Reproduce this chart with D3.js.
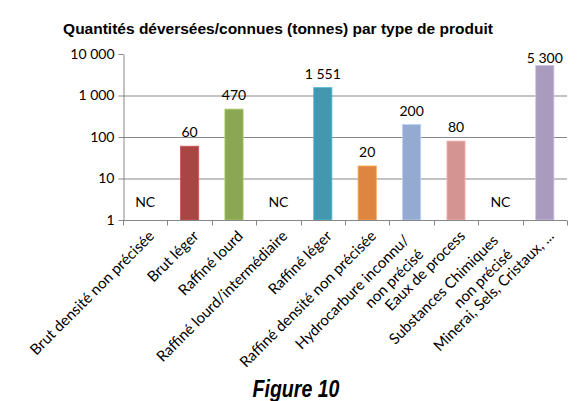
<!DOCTYPE html>
<html><head><meta charset="utf-8">
<script src="https://cdn.jsdelivr.net/npm/d3@7"></script>
<style>html,body{margin:0;padding:0;background:#fff;}svg{display:block;}</style>
</head><body>
<script>
const categories = ["Brut densité non précisée","Brut léger","Raffiné lourd","Raffiné lourd/intermédiaire","Raffiné léger","Raffiné densité non précisée","Hydrocarbure inconnu/\nnon précisé","Eaux de process","Substances Chimiques\nnon précisé","Minerai, Sels, Cristaux, ..."];
const values = [null,60,470,null,1551,20,200,80,null,5300];
const colors = ["#4572A7","#A94543","#8BA753","#80699B","#4398AF","#DD8541","#94AAD0","#D39492","#A47D7C","#A99BBE"];
const yTicks = [1,10,100,1000,10000];
const gridValues = [10,100,1000];
const title = "Quantités déversées/connues (tonnes) par type de produit";
const caption = "Figure 10";

const W=588,H=401;
const svg=d3.select("body").append("svg").attr("width",W).attr("height",H);
svg.append("rect").attr("width",W).attr("height",H).attr("fill","#fff");
const fr=d3.formatLocale({decimal:",",thousands:"\u00a0",grouping:[3],currency:["","€"]});
const fmt=fr.format(",d");
const L=123,R=567,T=54,B=220;
const x=d3.scaleBand().domain(categories).range([L,R]).padding(0);
const y=d3.scaleLog().domain([1,10000]).range([B,T]);
const axisColor="#878787";
const font="Lato, 'Open Sans', sans-serif";

// gridlines
svg.append("g").selectAll("line").data(gridValues).join("line")
 .attr("x1",L).attr("x2",R).attr("y1",d=>y(d)+0.5).attr("y2",d=>y(d)+0.5)
 .attr("stroke",axisColor).attr("stroke-width",1);

// bars
const bw=x.bandwidth()*0.41;
const data=categories.map((c,i)=>({c,v:values[i],col:colors[i]}));
svg.append("g").selectAll("rect").data(data.filter(d=>d.v!=null)).join("rect")
 .attr("x",d=>x(d.c)+x.bandwidth()/2-bw/2).attr("width",bw)
 .attr("y",d=>y(d.v)).attr("height",d=>B-y(d.v))
 .attr("fill",d=>d.col).attr("stroke",d=>d3.color(d.col).brighter(0.6)).attr("stroke-width",0.8);

// y axis
const ya=d3.axisLeft(y).tickValues(yTicks).tickFormat(d=>fmt(d)).tickSizeInner(5).tickSizeOuter(0).tickPadding(4);
const gy=svg.append("g").attr("transform",`translate(${L+0.5},0)`).call(ya);
gy.select(".domain").attr("stroke",axisColor);
gy.selectAll(".tick line").attr("stroke",axisColor);
gy.selectAll(".tick text").attr("font-family",font).attr("font-size",14).attr("fill","#000");

// x axis
const gx=svg.append("g").attr("transform",`translate(0,${B+0.5})`);
gx.append("line").attr("x1",L).attr("x2",R).attr("stroke",axisColor);
const boundaries=categories.map(c=>x(c)).concat([R]);
gx.selectAll("line.t").data(boundaries).join("line").attr("class","t")
 .attr("x1",d=>Math.round(d)+0.5).attr("x2",d=>Math.round(d)+0.5).attr("y1",0).attr("y2",5).attr("stroke",axisColor);

// x labels
categories.forEach((c,i)=>{
  const lines=c.split("\n");
  const cx=x(c)+x.bandwidth()/2;
  const n=lines.length-1;
  const t=svg.append("text").attr("text-anchor","end").attr("font-family",font).attr("font-size",15).attr("fill","#000")
   .attr("transform",`translate(${cx+10-11.3*n},${237+4.3*n}) rotate(-45)`);
  lines.forEach((ln,j)=>t.append("tspan").attr("x",0).attr("dy",j?20:0).text(ln));
});

// value labels
svg.append("g").selectAll("text").data(data).join("text")
 .attr("x",d=>x(d.c)+x.bandwidth()/2)
 .attr("y",d=>d.v==null?207:Math.max(y(d.v)-9,T+9))
 .attr("text-anchor","middle").attr("font-family",font).attr("font-size",14).attr("fill","#000")
 .text(d=>d.v==null?"NC":fmt(d.v));

// title
svg.append("text").attr("x",278).attr("y",34).attr("text-anchor","middle")
 .attr("font-family","'Liberation Sans', Arial, sans-serif").attr("font-weight","bold").attr("font-size",15.5).text(title);

// caption
svg.append("text").attr("transform","translate(296,397) scale(0.85,1)").attr("text-anchor","middle")
 .attr("font-family","'Liberation Sans', Arial, sans-serif").attr("font-weight","bold").attr("font-style","italic").attr("font-size",23).text(caption);
</script>
</body></html>
